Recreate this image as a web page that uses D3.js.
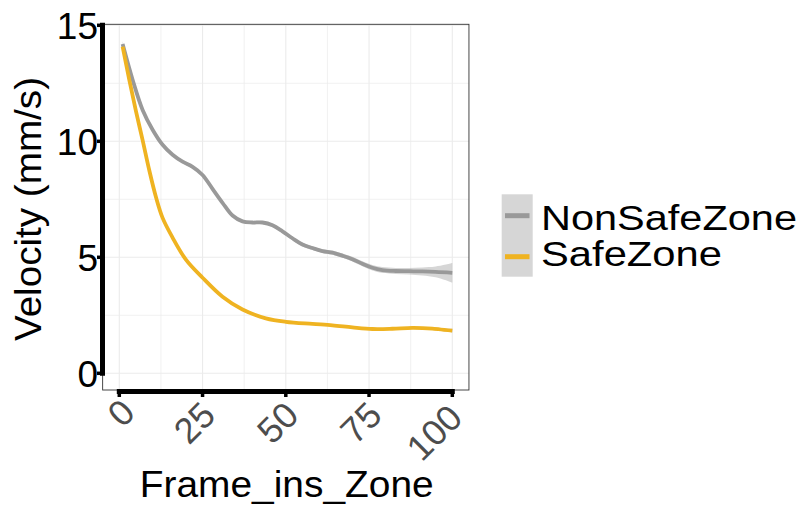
<!DOCTYPE html>
<html>
<head>
<meta charset="utf-8">
<script src="https://cdn.jsdelivr.net/npm/d3@7"></script>
<style>
  html, body { margin: 0; padding: 0; background: #ffffff; }
  svg { display: block; font-family: "Liberation Sans", Arial, sans-serif; }
</style>
</head>
<body>
<svg id="chart" width="806" height="510"></svg>
<script>
// ---------------- data ----------------
const seriesNames = ["NonSafeZone", "SafeZone"];
const seriesColors = ["#999999", "#EFB321"];

const nonSafeX  = [1, 4, 7, 10, 13, 16, 19, 22, 25, 28, 31, 34, 37, 40, 43, 46, 49, 52, 55, 58, 61, 64, 67, 70, 73, 76, 79, 83, 87, 91, 95, 100];
const nonSafeY  = [14.19, 12.65, 11.35, 10.5, 9.85, 9.42, 9.12, 8.9, 8.55, 7.95, 7.35, 6.8, 6.55, 6.5, 6.5, 6.38, 6.12, 5.82, 5.55, 5.4, 5.27, 5.2, 5.07, 4.92, 4.72, 4.55, 4.45, 4.41, 4.4, 4.39, 4.37, 4.33];
const nonSafeSE = [0.12, 0.09, 0.08, 0.07, 0.07, 0.07, 0.07, 0.07, 0.07, 0.07, 0.07, 0.07, 0.07, 0.07, 0.07, 0.07, 0.07, 0.08, 0.08, 0.08, 0.08, 0.09, 0.09, 0.1, 0.11, 0.12, 0.13, 0.13, 0.14, 0.17, 0.23, 0.42];

const safeX  = [1, 3, 5, 7, 9, 11, 13, 16, 20, 25, 31, 37, 44, 50, 58, 64, 70, 76, 82, 88, 94, 100];
const safeY  = [14.08, 12.65, 11.3, 10.05, 8.75, 7.6, 6.7, 5.85, 4.9, 4.12, 3.3, 2.75, 2.37, 2.22, 2.13, 2.07, 1.98, 1.91, 1.92, 1.96, 1.93, 1.84];
const safeSE = [0.05, 0.04, 0.04, 0.04, 0.04, 0.04, 0.04, 0.04, 0.04, 0.04, 0.04, 0.04, 0.04, 0.04, 0.04, 0.04, 0.04, 0.04, 0.04, 0.05, 0.06, 0.08];

const xTicks = [0, 25, 50, 75, 100];
const xMinor = [12.5, 37.5, 62.5, 87.5];
const yTicks = [0, 5, 10, 15];
const yMinor = [2.5, 7.5, 12.5];

const xTitle = "Frame_ins_Zone";
const yTitle = "Velocity (mm/s)";

// ---------------- layout ----------------
const svg = d3.select("#chart");
svg.append("rect").attr("width", 806).attr("height", 510).attr("fill", "#ffffff");

const x = d3.scaleLinear().domain([0, 100]).range([119.3, 452.3]);
const y = d3.scaleLinear().domain([0, 15]).range([373.3, 25.3]);

const panel = { x0: x(-5), x1: x(105), y0: 24.3, y1: y(-0.72) };

const g = svg.append("g");

// gridlines
const grid = g.append("g");
grid.selectAll(".vminor").data(xMinor).join("line")
  .attr("x1", d => x(d)).attr("x2", d => x(d))
  .attr("y1", panel.y0).attr("y2", panel.y1)
  .attr("stroke", "#EBEBEB").attr("stroke-width", 0.7);
grid.selectAll(".hminor").data(yMinor).join("line")
  .attr("y1", d => y(d)).attr("y2", d => y(d))
  .attr("x1", panel.x0).attr("x2", panel.x1)
  .attr("stroke", "#EBEBEB").attr("stroke-width", 0.7);
grid.selectAll(".vmajor").data(xTicks).join("line")
  .attr("x1", d => x(d)).attr("x2", d => x(d))
  .attr("y1", panel.y0).attr("y2", panel.y1)
  .attr("stroke", "#EBEBEB").attr("stroke-width", 1.1);
grid.selectAll(".hmajor").data(yTicks).join("line")
  .attr("y1", d => y(d)).attr("y2", d => y(d))
  .attr("x1", panel.x0).attr("x2", panel.x1)
  .attr("stroke", "#EBEBEB").attr("stroke-width", 1.1);

// series
const series = [
  { name: seriesNames[0], color: seriesColors[0], pts: nonSafeX.map((d, i) => ({ x: d, y: nonSafeY[i], se: nonSafeSE[i] })) },
  { name: seriesNames[1], color: seriesColors[1], pts: safeX.map((d, i) => ({ x: d, y: safeY[i], se: safeSE[i] })) }
];

const curve = d3.curveCatmullRom.alpha(0.5);
const area = d3.area().x(d => x(d.x)).y0(d => y(d.y - d.se)).y1(d => y(d.y + d.se)).curve(curve);
const line = d3.line().x(d => x(d.x)).y(d => y(d.y)).curve(curve);

series.forEach(s => {
  g.append("path").attr("d", area(s.pts)).attr("fill", "#999999").attr("fill-opacity", 0.4);
});
series.forEach(s => {
  g.append("path").attr("d", line(s.pts)).attr("fill", "none")
    .attr("stroke", s.color).attr("stroke-width", 3.8).attr("stroke-linejoin", "round");
});

// panel border
g.append("rect")
  .attr("x", panel.x0).attr("y", panel.y0)
  .attr("width", panel.x1 - panel.x0).attr("height", panel.y1 - panel.y0)
  .attr("fill", "none").attr("stroke", "#333333").attr("stroke-width", 0.9);

// axis lines (thick black, spanning break range)
g.append("line")
  .attr("x1", 102.5).attr("x2", 102.5)
  .attr("y1", y(0)).attr("y2", y(15))
  .attr("stroke", "#000").attr("stroke-width", 5).attr("stroke-linecap", "square");
g.append("line")
  .attr("x1", x(0)).attr("x2", x(100))
  .attr("y1", 391.5).attr("y2", 391.5)
  .attr("stroke", "#000").attr("stroke-width", 5).attr("stroke-linecap", "square");

// ticks
g.selectAll(".ytick").data(yTicks).join("line")
  .attr("x1", 97).attr("x2", 102).attr("y1", d => y(d)).attr("y2", d => y(d))
  .attr("stroke", "#000").attr("stroke-width", 3.5);
g.selectAll(".xtick").data(xTicks).join("line")
  .attr("x1", d => x(d)).attr("x2", d => x(d)).attr("y1", 392).attr("y2", 397)
  .attr("stroke", "#000").attr("stroke-width", 3.5);

// y tick labels
g.selectAll(".ylab").data(yTicks).join("text")
  .attr("x", 98).attr("y", d => y(d)).attr("dy", "0.36em")
  .attr("text-anchor", "end").attr("font-size", 37).attr("fill", "#000")
  .text(d => d);

// x tick labels, rotated 45
const xl = g.selectAll(".xlab").data(xTicks).join("text")
  .attr("transform", d => `translate(${x(d) + 20.5},411.7) rotate(-45)`)
  .attr("text-anchor", "end").attr("font-size", 36).attr("fill", "#4D4D4D")
  .text(d => d);
xl.each(function() {
  const L = this.getComputedTextLength();
  d3.select(this).attr("x", -0.2 * L);
});

// axis titles
g.append("text")
  .attr("x", 286.7 - 147).attr("y", 496.7)
  .attr("font-size", 36).attr("fill", "#000")
  .attr("textLength", 294).attr("lengthAdjust", "spacingAndGlyphs")
  .text(xTitle);
g.append("text")
  .attr("transform", `translate(41,${209 + 132}) rotate(-90)`)
  .attr("font-size", 36).attr("fill", "#000")
  .attr("textLength", 264).attr("lengthAdjust", "spacingAndGlyphs")
  .text(yTitle);

// legend
const leg = svg.append("g");
leg.append("rect").attr("x", 501.7).attr("y", 194.3).attr("width", 31).attr("height", 82.4)
  .attr("fill", "#999999").attr("fill-opacity", 0.4);
const legRowsY = [215.7, 256.7];
const legTextY = [230, 265.5];
const legTextLen = [256, 181];
series.forEach((s, i) => {
  leg.append("line").attr("x1", 505).attr("x2", 529.5)
    .attr("y1", legRowsY[i]).attr("y2", legRowsY[i])
    .attr("stroke", s.color).attr("stroke-width", 5);
  leg.append("text").attr("x", 541).attr("y", legTextY[i])
    .attr("font-size", 35).attr("fill", "#000")
    .attr("textLength", legTextLen[i]).attr("lengthAdjust", "spacingAndGlyphs")
    .text(s.name);
});
</script>
</body>
</html>
